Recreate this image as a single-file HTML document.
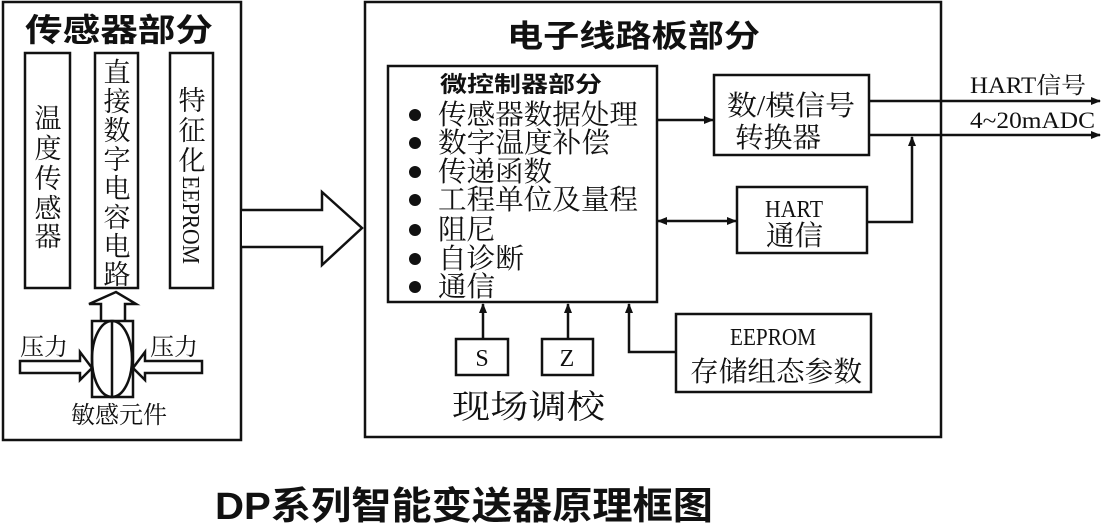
<!DOCTYPE html>
<html><head><meta charset="utf-8"><style>
html,body{margin:0;padding:0;background:#fff;}
svg{display:block;}
text{font-family:"Liberation Serif","Noto Serif CJK SC",serif;fill:#111;}
.s{font-family:"Liberation Sans","Noto Sans CJK SC",sans-serif;}
</style></head><body>
<svg width="1102" height="526" viewBox="0 0 1102 526" xmlns="http://www.w3.org/2000/svg">
<defs>
<marker id="a" markerWidth="10" markerHeight="10" refX="9" refY="5" orient="auto" markerUnits="userSpaceOnUse">
<path d="M0,1 L10,5 L0,9 Z" fill="#111"/></marker>
<marker id="b" markerWidth="10" markerHeight="10" refX="1" refY="5" orient="auto" markerUnits="userSpaceOnUse">
<path d="M10,1 L0,5 L10,9 Z" fill="#111"/></marker>
</defs>
<g fill="none" stroke="#111" stroke-width="2.5">
<rect x="3" y="2" width="238" height="438"/>
<rect x="25" y="53" width="45" height="235"/>
<rect x="95" y="53" width="43" height="235"/>
<rect x="170" y="53" width="43" height="235"/>
<path d="M101,320 L101,304 L89,304 L116,292 L136,304 L125,304 L125,320" fill="#fff"/>
<rect x="92" y="321" width="41" height="76"/>
<ellipse cx="112" cy="359" rx="20" ry="38"/>
<line x1="112" y1="321" x2="112" y2="397"/>
<path d="M20,361 L80,361 L80,352 L92,368 L80,380 L80,373 L20,373 Z" fill="#fff"/>
<path d="M202,361 L145,361 L145,352 L133,368 L145,380 L145,373 L202,373 Z" fill="#fff"/>
<path d="M242,210 L322,210 L322,192 L362,228 L322,265 L322,247 L242,247" fill="#fff"/>
<rect x="365" y="2" width="576" height="435"/>
<rect x="388" y="66" width="269" height="236"/>
<rect x="714" y="75" width="155" height="80"/>
<rect x="737" y="187" width="130" height="66"/>
<rect x="456" y="339" width="52" height="36"/>
<rect x="542" y="339" width="51" height="36"/>
<rect x="676" y="314" width="195" height="78"/>
</g>
<g fill="none" stroke="#111" stroke-width="2.5">
<line x1="657" y1="120" x2="713" y2="120" marker-end="url(#a)"/>
<line x1="658" y1="221" x2="736" y2="221" marker-end="url(#a)" marker-start="url(#b)"/>
<polyline points="867,222 912,222 912,137" marker-end="url(#a)"/>
<line x1="869" y1="101" x2="1100" y2="101" marker-end="url(#a)"/>
<line x1="869" y1="135" x2="1100" y2="135" marker-end="url(#a)"/>
<line x1="483" y1="339" x2="483" y2="304" marker-end="url(#a)"/>
<line x1="568" y1="339" x2="568" y2="304" marker-end="url(#a)"/>
<polyline points="676,352 629,352 629,304" marker-end="url(#a)"/>
</g>
<g fill="#111">
<circle cx="415" cy="115" r="6"/><circle cx="415" cy="143" r="6"/><circle cx="415" cy="172" r="6"/>
<circle cx="415" cy="200" r="6"/><circle cx="415" cy="230" r="6"/><circle cx="415" cy="259" r="6"/><circle cx="415" cy="287" r="6"/>
</g>
<text class="s" x="25" y="41" font-size="32" font-weight="bold" textLength="188" lengthAdjust="spacingAndGlyphs">传感器部分</text>
<g font-size="27" text-anchor="middle">
<text x="48" y="128">温</text><text x="48" y="158">度</text><text x="48" y="188">传</text><text x="48" y="218">感</text><text x="48" y="246">器</text>
<text x="117" y="82">直</text><text x="117" y="111">接</text><text x="117" y="140">数</text><text x="117" y="169">字</text><text x="117" y="198">电</text><text x="117" y="227">容</text><text x="117" y="256">电</text><text x="117" y="284">路</text>
<text x="192" y="110">特</text><text x="192" y="140">征</text><text x="192" y="170">化</text>
</g>
<text x="183" y="176" font-size="24" transform="rotate(90 183 176)" textLength="88" lengthAdjust="spacingAndGlyphs">EEPROM</text>
<text x="20" y="355" font-size="24">压力</text>
<text x="150" y="355" font-size="24">压力</text>
<text x="119" y="423" font-size="24" text-anchor="middle">敏感元件</text>
<text class="s" x="507" y="47" font-size="31" font-weight="bold" textLength="253" lengthAdjust="spacingAndGlyphs">电子线路板部分</text>
<text class="s" x="440" y="92" font-size="22" font-weight="bold" textLength="162" lengthAdjust="spacingAndGlyphs">微控制器部分</text>
<g font-size="28">
<text x="438" y="124" textLength="200" lengthAdjust="spacingAndGlyphs">传感器数据处理</text>
<text x="438" y="152" textLength="172" lengthAdjust="spacingAndGlyphs">数字温度补偿</text>
<text x="438" y="181" textLength="114" lengthAdjust="spacingAndGlyphs">传递函数</text>
<text x="438" y="209" textLength="200" lengthAdjust="spacingAndGlyphs">工程单位及量程</text>
<text x="438" y="239" textLength="57" lengthAdjust="spacingAndGlyphs">阻尼</text>
<text x="438" y="268" textLength="86" lengthAdjust="spacingAndGlyphs">自诊断</text>
<text x="438" y="296" textLength="57" lengthAdjust="spacingAndGlyphs">通信</text>
</g>
<text x="727" y="115" font-size="28" textLength="128" lengthAdjust="spacingAndGlyphs">数/模信号</text>
<text x="735" y="147" font-size="28" textLength="86" lengthAdjust="spacingAndGlyphs">转换器</text>
<text x="765" y="217" font-size="24" textLength="58" lengthAdjust="spacingAndGlyphs">HART</text>
<text x="766" y="245" font-size="28" textLength="57" lengthAdjust="spacingAndGlyphs">通信</text>
<text x="970" y="93" font-size="23" textLength="116" lengthAdjust="spacingAndGlyphs">HART信号</text>
<text x="970" y="128" font-size="23" textLength="125" lengthAdjust="spacingAndGlyphs">4~20mADC</text>
<text x="482" y="366" font-size="24" text-anchor="middle">S</text>
<text x="567" y="366" font-size="24" text-anchor="middle">Z</text>
<text x="730" y="345" font-size="24" textLength="86" lengthAdjust="spacingAndGlyphs">EEPROM</text>
<text x="690" y="381" font-size="28" textLength="172" lengthAdjust="spacingAndGlyphs">存储组态参数</text>
<text x="452" y="418" font-size="33" textLength="153" lengthAdjust="spacingAndGlyphs">现场调校</text>
<text class="s" x="215" y="519" font-size="38" font-weight="bold" textLength="498" lengthAdjust="spacingAndGlyphs">DP系列智能变送器原理框图</text>
</svg>
</body></html>
